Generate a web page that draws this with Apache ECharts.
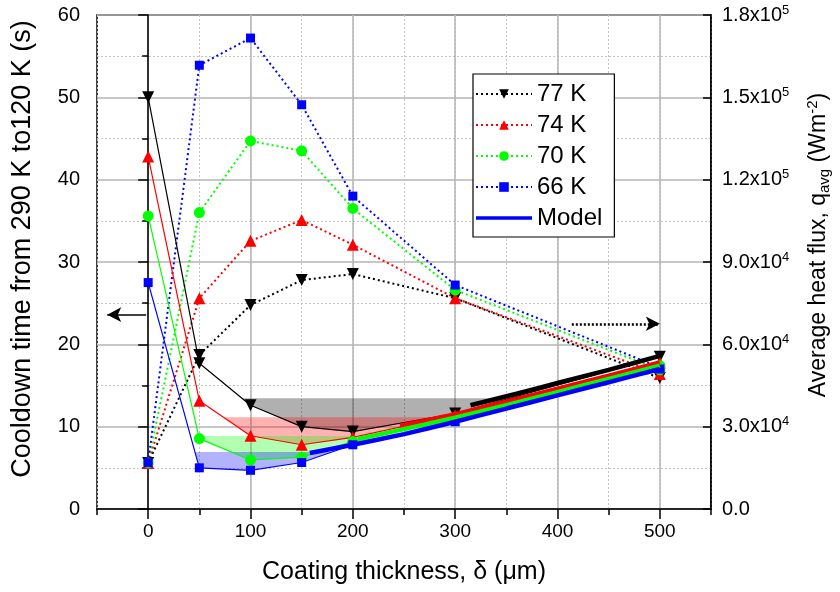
<!DOCTYPE html>
<html>
<head>
<meta charset="utf-8">
<script src="https://cdn.jsdelivr.net/npm/echarts@6/dist/echarts.min.js"></script>
<style>
  html, body { margin: 0; padding: 0; background: #fff; }
  #chart { width: 840px; height: 592px; }
</style>
</head>
<body>
<div id="chart"></div>
<script>
// Coating thickness (µm) at which every run was measured
const thickness = [0, 50, 100, 150, 200, 300, 500];

// Cooldown time 290 K -> 120 K (s), left axis
const time77 = [50.0, 17.7, 12.6, 10.0, 9.4, 11.6, 18.5];
const time74 = [42.8, 13.15, 8.9, 7.8, 8.7, 11.4, 17.8];
const time70 = [35.6, 8.55, 5.95, 6.3, 8.2, 11.1, 17.4];
const time66 = [27.5, 5.0, 4.7, 5.65, 7.8, 10.6, 17.0];

// Average heat flux q_avg (W m^-2), right axis
const flux77 = [16800, 56100, 74300, 83400, 85600, 76800, 47700];
const flux74 = [16800, 76800, 97700, 105300, 96300, 76800, 49200];
const flux70 = [16800, 108000, 134100, 130500, 109500, 79800, 50700];
const flux66 = [16900, 161700, 171600, 147300, 114000, 81600, 51600];

// Model predictions of the cooldown time
const modelX77 = [315, 360, 400, 450, 500];
const model77  = [12.6, 14.0, 15.3, 16.9, 18.6];
const modelX74 = [246, 300, 354, 400, 450, 500];
const model74  = [10.1, 11.5, 13.2, 14.6, 16.2, 17.8];
const modelX70 = [205, 250, 300, 350, 400, 450, 500];
const model70  = [8.5, 9.7, 11.1, 12.6, 14.2, 15.8, 17.4];
const modelX66 = [158, 200, 250, 300, 350, 400, 450, 500];
const model66  = [6.8, 7.8, 9.1, 10.6, 12.2, 13.8, 15.4, 17.0];

// Level of the shaded optimum band for each temperature (s)
const bandLevels = [13.45, 11.14, 8.87, 6.92];

// Tick labels of the thickness axis (every 50 µm, labelled every 100 µm)
const xTickLabels = ['-50', '0', '50', '100', '150', '200', '250', '300', '350', '400', '450', '500', '550'];

const FONT = 'Liberation Sans, Arial, sans-serif';
const C77 = '#000000', C74 = '#ff0000', C70 = '#00ff00', C66 = '#0000ff';

const pairs = (xs, ys) => xs.map((x, i) => [x, ys[i]]);

// Region between a horizontal level and the part of a curve lying below it
function bandPolygon(xs, ys, level) {
  const pts = [];
  for (let i = 0; i < xs.length - 1; i++) {
    const x0 = xs[i], y0 = ys[i], x1 = xs[i + 1], y1 = ys[i + 1];
    if (i === 0 && y0 < level) pts.push([x0, level], [x0, y0]);
    if ((y0 >= level) !== (y1 >= level)) {
      const t = (level - y0) / (y1 - y0);
      pts.push([x0 + t * (x1 - x0), level]);
    }
    if (y1 < level) pts.push([x1, y1]);
  }
  return pts;
}

const bands = [
  { pts: bandPolygon(thickness, time77, bandLevels[0]), fill: 'rgba(0,0,0,0.31)' },
  { pts: bandPolygon(thickness, time74, bandLevels[1]), fill: 'rgba(255,0,0,0.30)' },
  { pts: bandPolygon(thickness, time70, bandLevels[2]), fill: 'rgba(0,255,0,0.30)' },
  { pts: bandPolygon(thickness, time66, bandLevels[3]), fill: 'rgba(0,0,255,0.30)' }
];

const isMajorX = (idx, v) => Number(v) % 100 === 0;

function fluxLabel(v) {
  if (v % 30000 !== 0) return '';
  if (v === 0) return '{m|0.0}';
  const e = Math.floor(Math.log10(v));
  const m = (v / Math.pow(10, e)).toFixed(1);
  return '{m|' + m + 'x10}{e|' + e + '}';
}

function timeSeries(name, ys, color, symbol, size, rotate) {
  return {
    name: name, type: 'line', xAxisIndex: 0, yAxisIndex: 0,
    data: pairs(thickness, ys),
    symbol: symbol, symbolSize: size, symbolRotate: rotate || 0,
    lineStyle: { color: color, width: 1.2 },
    itemStyle: { color: color },
    z: 4
  };
}
function fluxSeries(name, ys, color, symbol, size, rotate) {
  return {
    name: name, type: 'line', xAxisIndex: 0, yAxisIndex: 1,
    data: pairs(thickness, ys),
    symbol: symbol, symbolSize: size, symbolRotate: rotate || 0,
    lineStyle: { color: color, width: 2, type: [2, 3] },
    itemStyle: { color: color },
    z: 3
  };
}
function modelSeries(name, xs, ys, color) {
  return {
    name: name, type: 'line', xAxisIndex: 0, yAxisIndex: 0,
    data: pairs(xs, ys), symbol: 'circle', showSymbol: false, smooth: 0.2,
    lineStyle: { color: color, width: 4.5 },
    itemStyle: { color: color },
    z: 5
  };
}

// Legend key for the model: a thick bar centred in the key box
const modelKey = 'path://M0,0L0.01,0M0,4.2L56,4.2L56,7.8L0,7.8ZM0,12L0.01,12';

const chart = echarts.init(document.getElementById('chart'), null, { renderer: 'canvas' });

chart.setOption({
  animation: false,
  backgroundColor: '#fff',
  textStyle: { fontFamily: FONT, color: '#000' },
  grid: {
    left: 97, right: 129, top: 15, bottom: 83,
    show: true, borderColor: '#000', borderWidth: 1.5, backgroundColor: 'transparent'
  },
  legend: {
    orient: 'vertical', left: 473, top: 74,
    data: ['77 K', '74 K', '70 K', '66 K',
      { name: 'Model', icon: modelKey, itemStyle: { color: C66 } }],
    backgroundColor: '#fff', borderColor: '#000', borderWidth: 1.2, borderRadius: 0,
    padding: [8, 12, 7, 2], itemGap: 7, itemWidth: 56, itemHeight: 12,
    textStyle: { fontSize: 24, fontFamily: FONT, color: '#000' },
    selectedMode: false, z: 20
  },
  xAxis: [
    {
      type: 'value', min: -50, max: 550, interval: 50, position: 'bottom',
      axisLine: { show: true, lineStyle: { color: '#000', width: 1.5 } },
      axisTick: { show: true, length: 6, lineStyle: { color: '#000', width: 1.5 } },
      axisLabel: { show: false },
      splitLine: { show: true, lineStyle: { color: '#c4c4c4', width: 1, type: [2, 2] } }
    },
    {
      type: 'category', data: xTickLabels, boundaryGap: false, position: 'bottom',
      axisLine: { show: false },
      axisTick: { show: true, length: 10, interval: isMajorX, lineStyle: { color: '#000', width: 1.5 } },
      axisLabel: { show: true, interval: isMajorX, fontSize: 19, margin: 13, color: '#000', fontFamily: FONT },
      splitLine: { show: true, interval: isMajorX, lineStyle: { color: '#b4b4b4', width: 1.5 } },
      name: 'Coating thickness, δ (μm)', nameLocation: 'middle', nameGap: 51,
      nameTextStyle: { fontSize: 25, fontFamily: FONT, color: '#000' }
    }
  ],
  yAxis: [
    {
      type: 'value', min: 0, max: 60, interval: 10, position: 'left',
      axisLine: { show: true, lineStyle: { color: '#000', width: 1.5 } },
      axisTick: { show: true, length: 10, lineStyle: { color: '#000', width: 1.5 } },
      minorTick: { show: true, splitNumber: 2, length: 6, lineStyle: { color: '#000', width: 1.5 } },
      axisLabel: { fontSize: 20, margin: 17, color: '#000', fontFamily: FONT },
      splitLine: { show: true, lineStyle: { color: '#b4b4b4', width: 1.5 } },
      minorSplitLine: { show: true, lineStyle: { color: '#c4c4c4', width: 1, type: [2, 2] } },
      name: 'Cooldown time from 290 K to120 K (s)', nameLocation: 'middle', nameGap: 61, nameRotate: 90,
      nameTextStyle: { fontSize: 27, fontFamily: FONT, color: '#000', padding: [0, 0, 0, 26] }
    },
    {
      type: 'value', min: 0, max: 180000, interval: 30000, position: 'right',
      axisLine: { show: true, lineStyle: { color: '#000', width: 1.5 } },
      axisTick: { show: true, inside: true, length: 8, lineStyle: { color: '#000', width: 1.5 } },
      splitLine: { show: false },
      axisLabel: {
        margin: 11, color: '#000', formatter: fluxLabel,
        rich: {
          m: { fontSize: 20, fontFamily: FONT, color: '#000' },
          e: { fontSize: 13, fontFamily: FONT, color: '#000', padding: [0, 0, 10, 0] }
        }
      },
      name: 'Average heat flux, q{sub|avg} (Wm{sup|-2})', nameLocation: 'middle', nameGap: 94, nameRotate: 90,
      nameTextStyle: {
        fontSize: 23, fontFamily: FONT, color: '#000', padding: [0, 0, 0, 34],
        rich: {
          sub: { fontSize: 15, fontFamily: FONT, color: '#000', padding: [12, 0, 0, 0] },
          sup: { fontSize: 15, fontFamily: FONT, color: '#000', padding: [0, 0, 12, 0] }
        }
      }
    }
  ],
  series: [
    {
      name: 'bands', type: 'custom', xAxisIndex: 0, yAxisIndex: 0,
      data: bandLevels.map((l, i) => [i, l]),
      renderItem: function (params, api) {
        const b = bands[params.dataIndex];
        return {
          type: 'polygon',
          shape: { points: b.pts.map(p => api.coord(p)) },
          style: { fill: b.fill }
        };
      },
      silent: true, z: 1
    },
    timeSeries('77 K time', time77, C77, 'triangle', 12, 180),
    timeSeries('74 K time', time74, C74, 'triangle', 12),
    timeSeries('70 K time', time70, C70, 'circle', 11),
    timeSeries('66 K time', time66, C66, 'rect', 9),
    fluxSeries('77 K', flux77, C77, 'triangle', 12, 180),
    fluxSeries('74 K', flux74, C74, 'triangle', 12),
    fluxSeries('70 K', flux70, C70, 'circle', 11),
    fluxSeries('66 K', flux66, C66, 'rect', 9),
    modelSeries('Model 77 K', modelX77, model77, C77),
    modelSeries('Model 74 K', modelX74, model74, C74),
    modelSeries('Model 70 K', modelX70, model70, C70),
    modelSeries('Model', modelX66, model66, C66),
    {
      // axis pointers: solid arrow to the time axis, dotted arrow to the flux axis
      name: 'axis arrows', type: 'line', xAxisIndex: 0, yAxisIndex: 0, data: [],
      markLine: {
        silent: true, animation: false, label: { show: false },
        symbol: ['none', 'arrow'], symbolSize: [11, 14],
        data: [
          [{ coord: [-2, 23.6], lineStyle: { color: '#000', width: 1.5, type: 'solid' } }, { coord: [-40, 23.6] }],
          [{ coord: [414, 22.5], lineStyle: { color: '#000', width: 2.5, type: [2, 2] } }, { coord: [500, 22.5] }]
        ]
      },
      z: 6
    }
  ]
});
</script>
</body>
</html>
